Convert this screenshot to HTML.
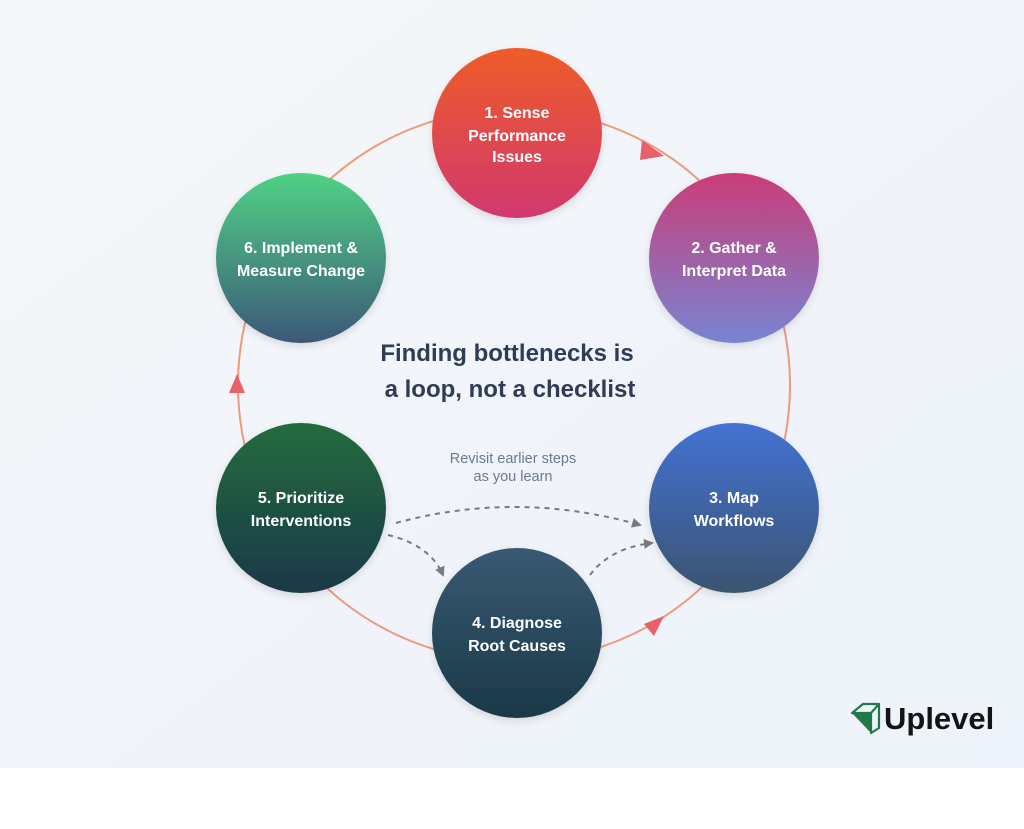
<!DOCTYPE html>
<html><head><meta charset="utf-8"><style>
html,body{margin:0;padding:0;width:1024px;height:829px;background:#fff;overflow:hidden}
svg{display:block}
text{font-family:"Liberation Sans","DejaVu Sans",sans-serif}
</style></head><body>
<svg width="1024" height="829" viewBox="0 0 1024 829" xmlns="http://www.w3.org/2000/svg">
<defs>
<linearGradient id="bg" x1="0" y1="0" x2="1" y2="1"><stop offset="0" stop-color="#f5f6f9"/><stop offset="1" stop-color="#edf3fa"/></linearGradient>
<linearGradient id="g1" x1="0" y1="0" x2="0" y2="1"><stop offset="0" stop-color="#ee5c28"/><stop offset="1" stop-color="#d2386f"/></linearGradient>
<linearGradient id="g2" x1="0" y1="0" x2="0" y2="1"><stop offset="0" stop-color="#ca3d78"/><stop offset="1" stop-color="#7884d2"/></linearGradient>
<linearGradient id="g3" x1="0" y1="0" x2="0" y2="1"><stop offset="0" stop-color="#4472d4"/><stop offset="1" stop-color="#3a5470"/></linearGradient>
<linearGradient id="g4" x1="0" y1="0" x2="0" y2="1"><stop offset="0" stop-color="#385a72"/><stop offset="1" stop-color="#1b3848"/></linearGradient>
<linearGradient id="g5" x1="0" y1="0" x2="0" y2="1"><stop offset="0" stop-color="#246c3e"/><stop offset="1" stop-color="#1a3848"/></linearGradient>
<linearGradient id="g6" x1="0" y1="0" x2="0" y2="1"><stop offset="0" stop-color="#50d285"/><stop offset="1" stop-color="#3b5878"/></linearGradient>
<marker id="dh" markerWidth="10" markerHeight="10" refX="8" refY="5" orient="auto" markerUnits="userSpaceOnUse"><path d="M0,0 L10,5 L0,10 z" fill="#7a7a7a"/></marker>
<filter id="sh" x="-20%" y="-20%" width="140%" height="140%"><feDropShadow dx="0" dy="3" stdDeviation="4" flood-color="#000" flood-opacity="0.12"/></filter>
</defs>
<rect width="1024" height="768" fill="url(#bg)"/>
<circle cx="514" cy="385" r="276" fill="none" stroke="#ef9a7c" stroke-width="2"/>
<path d="M642,140 L664,156 L640,160 z" fill="#e8606a"/>
<path d="M644,624 L664,616 L654,636 z" fill="#e8606a"/>
<path d="M237,374 L245,393 L229,393 z" fill="#e8606a"/>
<g fill="none" stroke="#7a7a7a" stroke-width="2" stroke-dasharray="5,5">
<path d="M396,523 Q517,490 640,525" marker-end="url(#dh)"/>
<path d="M388,535 Q430,545 443,575" marker-end="url(#dh)"/>
<path d="M590,575 Q610,548 652,543" marker-end="url(#dh)"/>
</g>
<g filter="url(#sh)">
<circle cx="517" cy="133" r="85" fill="url(#g1)"/>
<circle cx="734" cy="258" r="85" fill="url(#g2)"/>
<circle cx="734" cy="508" r="85" fill="url(#g3)"/>
<circle cx="517" cy="633" r="85" fill="url(#g4)"/>
<circle cx="301" cy="508" r="85" fill="url(#g5)"/>
<circle cx="301" cy="258" r="85" fill="url(#g6)"/>
</g>
<g fill="#fff" font-size="16" font-weight="bold" text-anchor="middle">
<text x="517" y="118">1. Sense</text><text x="517" y="141">Performance</text><text x="517" y="162">Issues</text>
<text x="734" y="253">2. Gather &amp;</text><text x="734" y="276">Interpret Data</text>
<text x="734" y="503">3. Map</text><text x="734" y="526">Workflows</text>
<text x="517" y="628">4. Diagnose</text><text x="517" y="651">Root Causes</text>
<text x="301" y="503">5. Prioritize</text><text x="301" y="526">Interventions</text>
<text x="301" y="253">6. Implement &amp;</text><text x="301" y="276">Measure Change</text>
</g>
<g fill="#2e3d55" font-size="24" font-weight="bold" text-anchor="middle">
<text x="507" y="361">Finding bottlenecks is</text>
<text x="510" y="397">a loop, not a checklist</text>
</g>
<g fill="#6b7a90" font-size="14.5" text-anchor="middle">
<text x="513" y="463">Revisit earlier steps</text>
<text x="513" y="481">as you learn</text>
</g>
<g transform="translate(851,702)">
<path d="M1,11 L12,2 L28,2 L28,26 L20,31 L20,11 Z M20,11 L28,2" fill="none" stroke="#1f7a45" stroke-width="2.2" stroke-linejoin="round"/>
<path d="M1,11 L20,11 L20,31 Z" fill="#1f7a45"/>
</g>
<text x="884" y="729" font-size="31" font-weight="bold" fill="#141414">Uplevel</text>
</svg>
</body></html>
